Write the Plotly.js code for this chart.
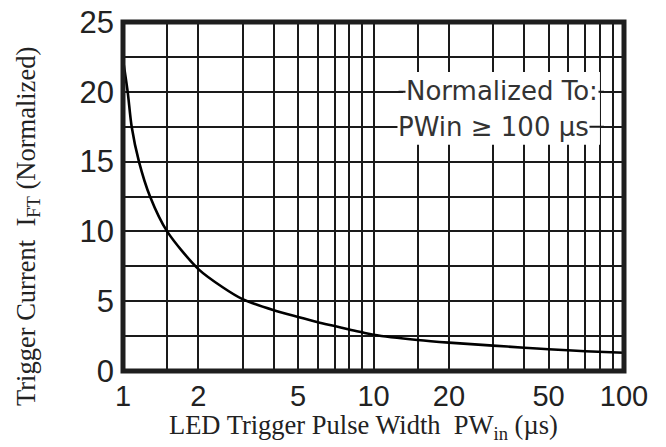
<!DOCTYPE html>
<html>
<head>
<meta charset="utf-8">
<script src="https://cdn.plot.ly/plotly-3.0.1.min.js"></script>
<style>html,body{margin:0;padding:0;background:#fff;}#chart{width:666px;height:447px;}</style>
</head>
<body>
<div id="chart"></div>
<script>
// Curve (pulse width in µs, normalized trigger current)
var pulseWidth = [1, 1.044, 1.083, 1.158, 1.282, 1.5, 2, 2.5, 3, 4, 5, 6, 7, 8, 9, 10, 15, 20, 30, 40, 50, 70, 100];
var triggerCurrent = [22.3, 20, 17.5, 15, 12.5, 10, 7.3, 6.0, 5.15, 4.35, 3.87, 3.5, 3.22, 2.97, 2.77, 2.6, 2.22, 2.03, 1.82, 1.67, 1.56, 1.42, 1.31];

var xTickVals = [1, 2, 5, 10, 20, 50, 100];
var xTickText = ['1', '2', '5', '10', '20', '50', '100'];
var xMinorGrid = [1.5, 3, 4, 6, 7, 8, 9, 15, 30, 40, 60, 70, 80, 90];
var yTickVals = [0, 5, 10, 15, 20, 25];
var yTickText = ['0', '5', '10', '15', '20', '25'];

var gridColor = '#1a1a1a';
var xTickFont = {family: 'Liberation Sans, Arial, sans-serif', size: 29, color: '#222'};
var yTickFont = {family: 'Liberation Sans, Arial, sans-serif', size: 31, color: '#222'};
var titleFont = {family: 'Liberation Serif, Times New Roman, serif', size: 26.5, color: '#222'};
var noteFont = {family: 'DejaVu Sans, sans-serif', size: 26, color: '#333'};

var trace = {
  x: pulseWidth, y: triggerCurrent, type: 'scatter', mode: 'lines',
  line: {color: '#000', width: 2.6, shape: 'spline', smoothing: 0.8},
  hoverinfo: 'skip'
};

var layout = {
  width: 666, height: 447,
  margin: {l: 123, r: 42, t: 22, b: 76},
  paper_bgcolor: '#fff', plot_bgcolor: '#fff',
  showlegend: false,
  xaxis: {
    type: 'log', range: [0, 2],
    tickmode: 'array', tickvals: xTickVals, ticktext: xTickText,
    ticks: '', showline: false, zeroline: false,
    showgrid: true, gridcolor: gridColor, gridwidth: 2,
    tickfont: xTickFont, ticklabelstandoff: 5,
    minor: {tickmode: 'array', tickvals: xMinorGrid, showgrid: true, gridcolor: gridColor, gridwidth: 2, ticks: ''}
  },
  yaxis: {
    range: [0, 25],
    tickmode: 'array', tickvals: yTickVals, ticktext: yTickText,
    ticks: '', showline: false, zeroline: false,
    showgrid: true, gridcolor: gridColor, gridwidth: 2,
    tickfont: yTickFont, ticklabelstandoff: 8,
    minor: {dtick: 2.5, showgrid: true, gridcolor: gridColor, gridwidth: 2, ticks: ''}
  },
  shapes: [
    {type: 'rect', xref: 'paper', yref: 'paper', x0: 0.559, x1: 0.952, y0: 0.648, y1: 0.857,
     fillcolor: '#fff', line: {width: 0}, layer: 'above'},
    {type: 'line', xref: 'paper', yref: 'y', x0: 0.55, x1: 0.96, y0: 20, y1: 20,
     line: {color: gridColor, width: 2}, layer: 'above'},
    {type: 'line', xref: 'paper', yref: 'y', x0: 0.55, x1: 0.96, y0: 17.5, y1: 17.5,
     line: {color: gridColor, width: 2}, layer: 'above'},
    {type: 'rect', xref: 'paper', yref: 'paper', x0: 0, x1: 1, y0: 0, y1: 1,
     line: {color: '#1e1e1e', width: 5}, layer: 'above'}
  ],
  annotations: [
    {text: 'Normalized To:', xref: 'paper', yref: 'paper', x: 0.756, y: 0.803,
     xanchor: 'center', yanchor: 'middle', showarrow: false, font: noteFont,
     bgcolor: '#fff', borderpad: 0},
    {text: 'PWin \u2265 100 \u00b5s', xref: 'paper', yref: 'paper', x: 0.739, y: 0.699,
     xanchor: 'center', yanchor: 'middle', showarrow: false, font: noteFont,
     bgcolor: '#fff', borderpad: 0},
    {text: 'LED Trigger Pulse Width  PW<sub>in</sub> (\u00b5s)', xref: 'paper', yref: 'paper',
     x: 0.481, y: -0.160, xanchor: 'center', yanchor: 'middle', showarrow: false, font: titleFont},
    {text: 'Trigger Current  I<sub>FT</sub> (Normalized)', xref: 'paper', yref: 'paper',
     x: -0.19, y: 0.415, xanchor: 'center', yanchor: 'middle', showarrow: false,
     textangle: -90, font: titleFont}
  ]
};

Plotly.newPlot('chart', [trace], layout, {displayModeBar: false, staticPlot: true});
</script>
</body>
</html>
